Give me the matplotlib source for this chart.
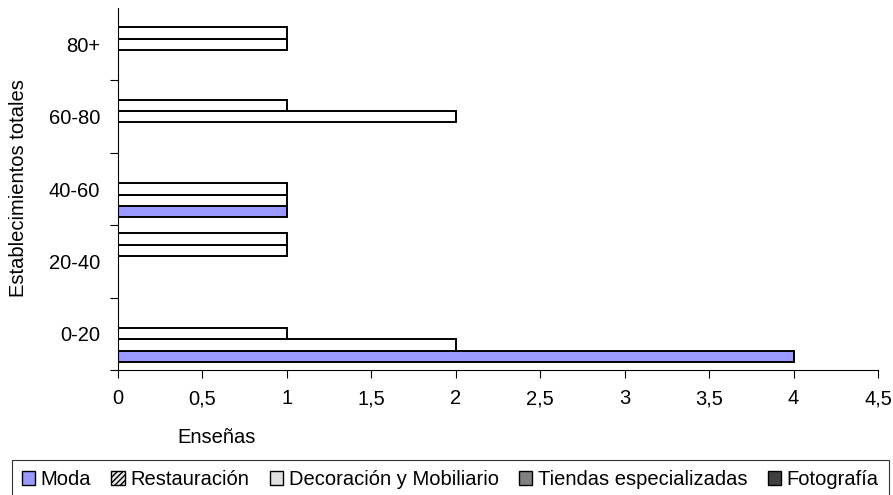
import matplotlib.pyplot as plt
import numpy as np
from matplotlib.patches import Patch
from matplotlib.ticker import FuncFormatter

plt.rcParams['font.family'] = ['Liberation Sans', 'DejaVu Sans']
plt.rcParams['font.size'] = 14.5

# ---- data ----
categories = ['0-20', '20-40', '40-60', '60-80', '80+']
series = ['Moda', 'Restauración', 'Decoración y Mobiliario',
          'Tiendas especializadas', 'Fotografía']
moda = [4, 0, 1, 0, 0]
restauracion = [2, 0, 1, 0, 0]
decoracion = [1, 0, 1, 2, 1]
tiendas = [0, 1, 0, 1, 1]
fotografia = [0, 1, 0, 0, 0]
values = [moda, restauracion, decoracion, tiendas, fotografia]

bar_colors = ['#9999FF', 'white', 'white', 'white', 'white']
legend_colors = ['#9999FF', '#E8E8E8', '#E0E0E0', '#808080', '#404040']
legend_hatch = [None, '//////', None, None, None]

fig = plt.figure(figsize=(8.93, 4.95), dpi=100)
ax = fig.add_axes([0.1321, 0.2525, 0.8511, 0.7313])

h = 0.155
y = np.arange(len(categories))
for j, vals in enumerate(values):
    ax.barh(y + (j - 2) * h, vals, height=h, color=bar_colors[j],
            edgecolor='black', linewidth=1.4)

ax.set_xlim(0, 4.5)
ax.set_ylim(-0.5, 4.5)
ax.set_xticks(np.arange(0, 4.51, 0.5))
ax.xaxis.set_major_formatter(FuncFormatter(lambda v, p: ('%g' % v).replace('.', ',')))
ax.set_yticks(y)
ax.set_yticklabels(categories)
ax.set_yticks(np.arange(-0.5, 4.0, 1.0), minor=True)
ax.tick_params(axis='y', which='major', length=0, pad=13)
ax.tick_params(axis='y', which='minor', length=6, width=0.8)
ax.tick_params(axis='x', length=6, width=0.8, pad=8)

for s in ['top', 'right']:
    ax.spines[s].set_visible(False)
for s in ['left', 'bottom']:
    ax.spines[s].set_linewidth(0.8)

fig.text(0.021, 0.62, 'Establecimientos totales', rotation=90,
         ha='center', va='center')
fig.text(0.242, 0.117, 'Enseñas', ha='center', va='center')

handles = [Patch(facecolor=legend_colors[i], edgecolor='black',
                 hatch=legend_hatch[i], linewidth=1.0) for i in range(5)]
leg = fig.legend(handles, series, loc='upper left', bbox_to_anchor=(0.013, 0.071),
                 ncol=5, frameon=True, fancybox=False,
                 handlelength=0.65, handleheight=0.65, handletextpad=0.3,
                 columnspacing=1.0, borderpad=0.5, borderaxespad=0.0)
leg.get_frame().set_edgecolor('black')
leg.get_frame().set_linewidth(0.8)

fig.savefig('out.png', dpi=100)
